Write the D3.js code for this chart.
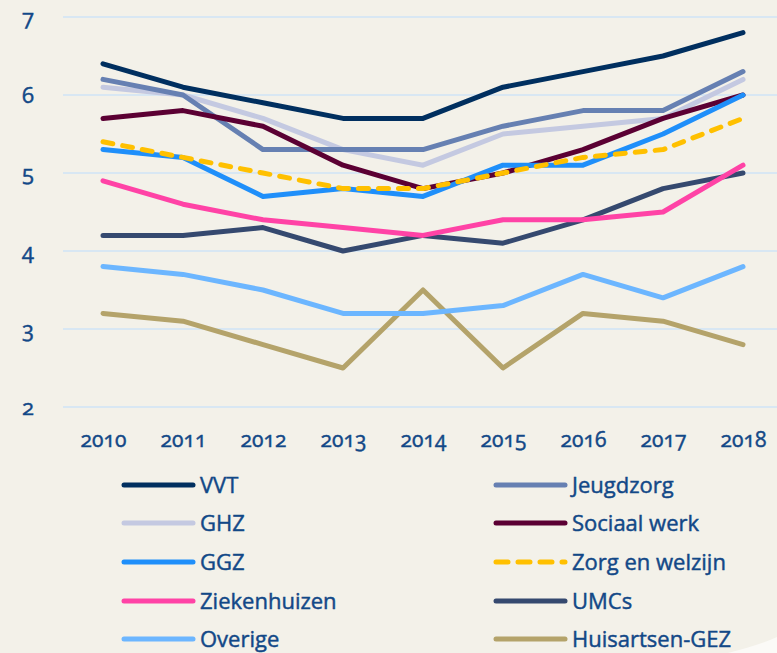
<!DOCTYPE html>
<html>
<head>
<meta charset="utf-8">
<script src="https://cdn.jsdelivr.net/npm/d3@7"></script>
<style>
  html, body { margin: 0; padding: 0; background: #f3f1e9; }
  svg { display: block; }
  text { font-family: "Open Sans", "Noto Sans", sans-serif; fill: #124887; stroke: #124887; stroke-width: 0.45px; font-variant-numeric: oldstyle-nums; font-feature-settings: "onum" 1; }
</style>
</head>
<body>
<svg id="chart" width="777" height="653"></svg>
<script>
// Years on the x axis
const years = [2010, 2011, 2012, 2013, 2014, 2015, 2016, 2017, 2018];
const yTicks = [2, 3, 4, 5, 6, 7];

// One array per sector
const vvt          = [6.4, 6.1, 5.9, 5.7, 5.7, 6.1, 6.3, 6.5, 6.8];
const jeugdzorg    = [6.2, 6.0, 5.3, 5.3, 5.3, 5.6, 5.8, 5.8, 6.3];
const ghz          = [6.1, 6.0, 5.7, 5.3, 5.1, 5.5, 5.6, 5.7, 6.2];
const sociaalWerk  = [5.7, 5.8, 5.6, 5.1, 4.8, 5.0, 5.3, 5.7, 6.0];
const ggz          = [5.3, 5.2, 4.7, 4.8, 4.7, 5.1, 5.1, 5.5, 6.0];
const zorgWelzijn  = [5.4, 5.2, 5.0, 4.8, 4.8, 5.0, 5.2, 5.3, 5.7];
const ziekenhuizen = [4.9, 4.6, 4.4, 4.3, 4.2, 4.4, 4.4, 4.5, 5.1];
const umcs         = [4.2, 4.2, 4.3, 4.0, 4.2, 4.1, 4.4, 4.8, 5.0];
const overige      = [3.8, 3.7, 3.5, 3.2, 3.2, 3.3, 3.7, 3.4, 3.8];
const huisartsen   = [3.2, 3.1, 2.8, 2.5, 3.5, 2.5, 3.2, 3.1, 2.8];

const seriesNames  = ["VVT", "Jeugdzorg", "GHZ", "Sociaal werk", "GGZ", "Zorg en welzijn", "Ziekenhuizen", "UMCs", "Overige", "Huisartsen-GEZ"];
const seriesValues = [vvt, jeugdzorg, ghz, sociaalWerk, ggz, zorgWelzijn, ziekenhuizen, umcs, overige, huisartsen];
const seriesColors = ["#002f5f", "#6680b2", "#c4c9e1", "#5b0033", "#1f8ffa", "#ffc000", "#ff43a6", "#35496f", "#6cb6ff", "#b4a36a"];
const dashedSeries = ["Zorg en welzijn"];

// Drawing order (back to front)
const drawOrder = ["Huisartsen-GEZ", "Overige", "UMCs", "Ziekenhuizen", "GHZ", "Jeugdzorg", "Sociaal werk", "GGZ", "Zorg en welzijn", "VVT"];

const svg = d3.select("#chart");

// Lighter rounded panel edge in the lower right corner
svg.append("path")
  .attr("d", "M728,653 Q760,645 777,637 L777,653 Z")
  .attr("fill", "#fbfaf7");

const x = d3.scaleLinear().domain([2010, 2018]).range([103, 743]);
const y = d3.scaleLinear().domain([2, 7]).range([407, 17]);

// Horizontal gridlines
svg.append("g")
  .selectAll("line")
  .data(yTicks)
  .join("line")
  .attr("x1", 63).attr("x2", 777)
  .attr("y1", d => y(d)).attr("y2", d => y(d))
  .attr("stroke", "#cfe3f6").attr("stroke-width", 1.5);

// Y axis labels
const yAxis = d3.axisLeft(y).tickValues(yTicks).tickSize(0).tickPadding(0).tickFormat(d3.format("d"));
svg.append("g")
  .attr("transform", "translate(34,0)")
  .call(yAxis)
  .call(g => g.select(".domain").remove())
  .call(g => g.selectAll("text")
    .attr("font-size", 22)
    .attr("dy", "0.35em")
    .style("fill", "#124887")
    .style("font-family", "'Open Sans', 'Noto Sans', sans-serif"));

// X axis labels
const xAxis = d3.axisBottom(x).tickValues(years).tickSize(0).tickPadding(0).tickFormat(d3.format("d"));
svg.append("g")
  .attr("transform", "translate(0,440)")
  .call(xAxis)
  .call(g => g.select(".domain").remove())
  .call(g => g.selectAll("text")
    .attr("font-size", 21)
    .attr("dy", "0.35em")
    .style("fill", "#124887")
    .style("font-family", "'Open Sans', 'Noto Sans', sans-serif"));

// Lines
const line = d3.line().x((d, i) => x(years[i])).y(d => y(d));
const lineLayer = svg.append("g");
drawOrder.forEach(name => {
  const i = seriesNames.indexOf(name);
  const dashed = dashedSeries.includes(name);
  lineLayer.append("path")
    .datum(seriesValues[i])
    .attr("d", line)
    .attr("fill", "none")
    .attr("stroke", seriesColors[i])
    .attr("stroke-width", 5)
    .attr("stroke-linejoin", "round")
    .attr("stroke-linecap", "round")
    .attr("stroke-dasharray", dashed ? "10 10" : null);
});

// Legend, two columns
const legendCols = [122, 494];
const legendRows = [485, 523, 562, 601, 639];
const legend = svg.append("g");
seriesNames.forEach((name, i) => {
  const cx = legendCols[i % 2];
  const cy = legendRows[Math.floor(i / 2)];
  const dashed = dashedSeries.includes(name);
  legend.append("line")
    .attr("x1", cx + 2).attr("x2", cx + 71)
    .attr("y1", cy).attr("y2", cy)
    .attr("stroke", seriesColors[i])
    .attr("stroke-width", 5)
    .attr("stroke-linecap", "round")
    .attr("stroke-dasharray", dashed ? "12 10" : null);
  legend.append("text")
    .attr("x", cx + 78).attr("y", cy)
    .attr("dy", "0.36em")
    .attr("font-size", 22)
    .text(name);
});
</script>
</body>
</html>
